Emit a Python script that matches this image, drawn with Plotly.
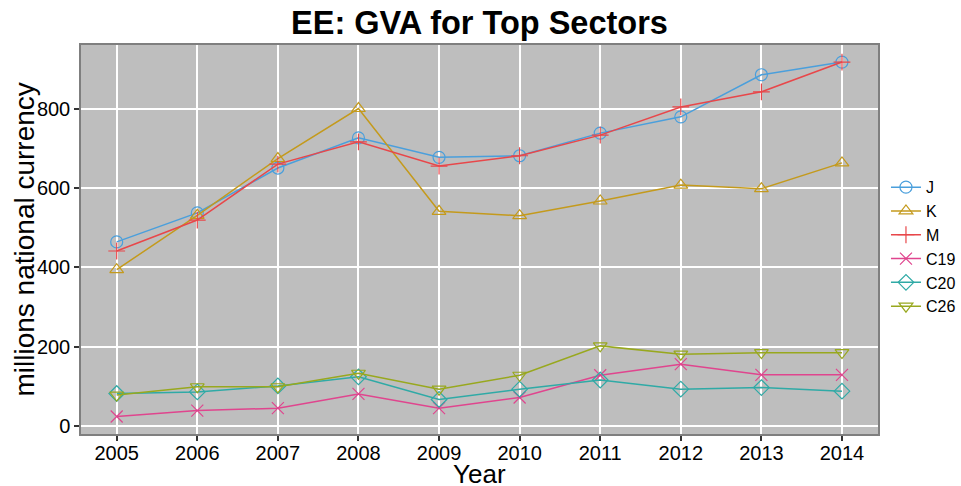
import plotly.graph_objects as go

years = [2005, 2006, 2007, 2008, 2009, 2010, 2011, 2012, 2013, 2014]

gva_j = [464, 537, 650, 726, 677, 681, 738, 779, 885, 917]
gva_k = [394, 531, 674, 800, 541, 530, 567, 607, 598, 663]
gva_m = [441, 519, 660, 716, 655, 681, 733, 804, 842, 917]
gva_c19 = [24, 39, 45, 81, 45, 72, 128, 156, 129, 129]
gva_c20 = [82, 86, 101, 124, 67, 93, 116, 93, 97, 88]
gva_c26 = [78, 99, 99, 133, 93, 128, 202, 181, 185, 185]

sectors = ["J", "K", "M", "C19", "C20", "C26"]
series = [gva_j, gva_k, gva_m, gva_c19, gva_c20, gva_c26]

COLORS = ["#4A9FDC", "#C49A1C", "#E8474A", "#E0458E", "#2FAAA6", "#98A81E"]
SYMBOLS = ["circle-open", "triangle-up-open", "cross-thin-open",
           "x-thin-open", "diamond-open", "triangle-down-open"]

fig = go.Figure()
for name, vals, col, sym in zip(sectors, series, COLORS, SYMBOLS):
    fig.add_trace(go.Scatter(
        x=years, y=vals, name=name, mode="lines+markers",
        line=dict(color=col, width=1.5),
        marker=dict(symbol=sym, size=12, color=col, line=dict(color=col, width=1.2)),
    ))

fig.update_layout(
    width=961,
    height=486,
    paper_bgcolor="white",
    plot_bgcolor="#BEBEBE",
    margin=dict(l=81, r=83, t=45, b=52, autoexpand=False),
    font=dict(family="Liberation Sans, Arial, sans-serif", color="black", size=16),
    title=dict(
        text="<b>EE: GVA for Top Sectors</b>",
        x=0.5, xref="paper", xanchor="center",
        y=0.953, yref="container", yanchor="middle",
        font=dict(size=32.5, color="black"),
    ),
    legend=dict(
        x=1.01, xanchor="left", y=0.678, yanchor="top",
        font=dict(size=16), bgcolor="rgba(0,0,0,0)",
        itemwidth=30,
    ),
    showlegend=True,
)

# axis titles placed as annotations for exact positioning
fig.add_annotation(
    text="Year", x=0.5, y=-0.103, xref="paper", yref="paper",
    xanchor="center", yanchor="middle", showarrow=False,
    font=dict(size=26),
)
fig.add_annotation(
    text="millions national currency", x=-0.0715, y=0.5, xref="paper", yref="paper",
    xanchor="center", yanchor="middle", showarrow=False, textangle=-90,
    font=dict(size=28),
)

fig.update_xaxes(
    range=[2004.557, 2014.447],
    tickmode="array", tickvals=years, ticktext=[str(y) for y in years],
    showgrid=True, gridcolor="white", gridwidth=1.5,
    showline=True, linecolor="#7F7F7F", linewidth=1.5, mirror=True,
    ticks="outside", ticklen=5, tickcolor="#333333", tickwidth=1.5,
    ticklabelstandoff=-5,
    zeroline=False, automargin=False,
    tickfont=dict(size=20),
)
fig.update_yaxes(
    range=[-20, 960],
    tickvals=[0, 200, 400, 600, 800],
    showgrid=True, gridcolor="white", gridwidth=1.5,
    showline=True, linecolor="#7F7F7F", linewidth=1.5, mirror=True,
    ticks="outside", ticklen=5, tickcolor="#333333", tickwidth=1.5,
    zeroline=False, automargin=False,
    tickfont=dict(size=20),
)

fig.write_html(
    "out.html",
    config={"displayModeBar": False},
    post_script="document.body.style.margin='0';",
)
